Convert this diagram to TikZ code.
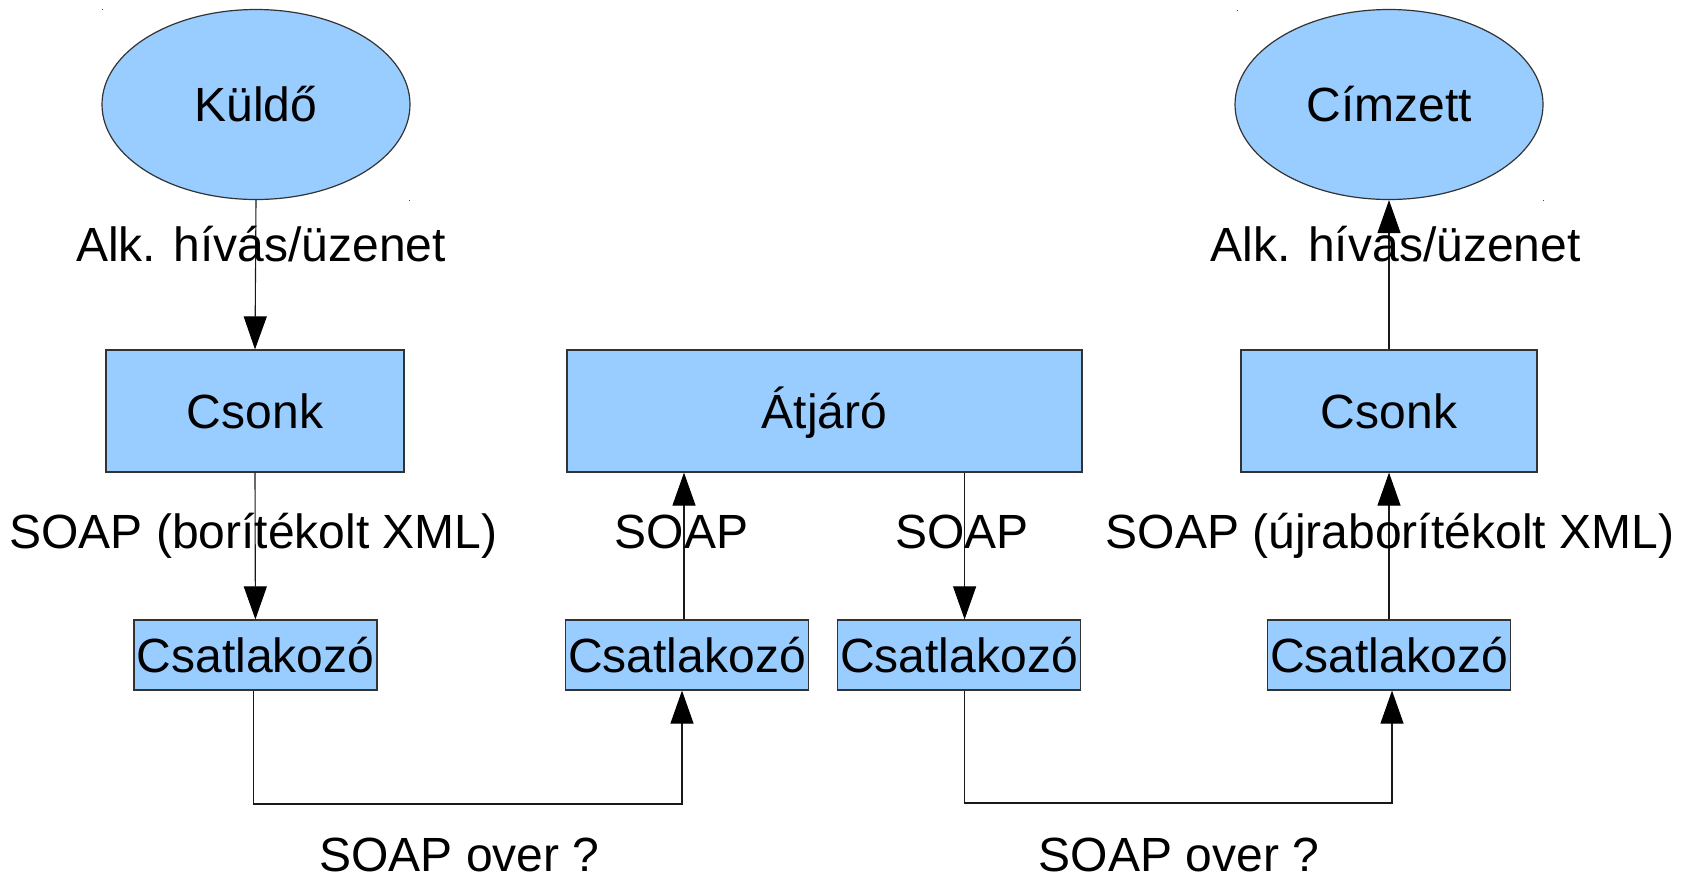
\documentclass[tikz,border=0pt]{standalone}
\usepackage{fontspec}
\setmainfont{Liberation Sans}
\usetikzlibrary{arrows.meta,shapes.geometric}
\definecolor{boxblue}{HTML}{99CCFF}
\definecolor{edgegray}{HTML}{333333}
\tikzset{
  lbl/.style={font=\fontsize{24}{28}\selectfont, inner sep=0pt, anchor=base},
  nodetext/.style={font=\fontsize{24}{28}\selectfont, inner sep=0pt, text height=17.2pt, text depth=0pt, align=center},
  ell/.style={nodetext, ellipse, draw=edgegray, line width=0.6pt, fill=boxblue, minimum width=154pt, minimum height=95pt},
  bigbox/.style={nodetext, rectangle, draw=edgegray, line width=0.6pt, fill=boxblue, minimum height=61pt},
  conbox/.style={nodetext, rectangle, draw=edgegray, line width=0.6pt, fill=boxblue, minimum height=35pt, minimum width=121.5pt},
  conn/.style={draw=black!90, line width=0.55pt},
  arr/.style={conn, -{Triangle[width=11.5pt, length=16.5pt, color=black]}},
}
\begin{document}
\begin{tikzpicture}[x=0.5pt, y=-0.5pt]
\useasboundingbox (0,0) rectangle (1690,879);
% dots
\fill[black!70] (101.5,8.5) rectangle (102.5,9.5);
\fill[black!70] (408.5,199.5) rectangle (409.5,200.5);
\fill[black!70] (1236.5,9.5) rectangle (1237.5,10.5);
\fill[black!70] (1542.5,199.5) rectangle (1543.5,200.5);
% nodes
\node[ell] (kuldo) at (256,104.5) {Küldő};
\node[ell] (cimzett) at (1389,104.5) {Címzett};
\node[bigbox, minimum width=149pt] (csonk1) at (255,411) {Csonk};
\node[bigbox, minimum width=257.5pt] (atjaro) at (824.5,411) {Átjáró};
\node[bigbox, minimum width=148pt] (csonk2) at (1389,411) {Csonk};
\node[conbox] (cs1) at (255.4,655) {Csatlakozó};
\node[conbox] (cs2) at (687,655) {Csatlakozó};
\node[conbox] (cs3) at (959,655) {Csatlakozó};
\node[conbox] (cs4) at (1389,655) {Csatlakozó};
\coordinate (b1) at (0,804);
\coordinate (b2) at (0,803);
% connectors
\draw[arr] (kuldo.south) -- (csonk1.north);
\draw[arr] (csonk1.south) -- (cs1.north);
\draw[arr] ([xshift=-1.5pt]cs2.north) -- ([xshift=-1.5pt]cs2.north |- atjaro.south);
\draw[arr] ([xshift=2.8pt]cs3.north |- atjaro.south) -- ([xshift=2.8pt]cs3.north);
\draw[arr] (cs4.north) -- (csonk2.south);
\draw[arr] (csonk2.north) -- (cimzett.south);
\draw[arr] ([xshift=-0.8pt]cs1.south) -- ([xshift=-0.8pt]cs1.south |- b1) -| ([xshift=-2.5pt]cs2.south);
\draw[arr] ([xshift=2.8pt]cs3.south) -- ([xshift=2.8pt]cs3.south |- b2) -| ([xshift=1.5pt]cs4.south);
% labels
\node[lbl] (l1) at (261,261) {Alk. hívás/üzenet};
\node[lbl] (l2) at (1395.5,261) {Alk. hívás/üzenet};
\node[lbl] (l3) at (253.5,548) {SOAP (borítékolt XML)};
\node[lbl] (l4) at (681.5,548) {SOAP};
\node[lbl] (l5) at (962,548) {SOAP};
\node[lbl] (l6) at (1390,548) {SOAP (újraborítékolt XML)};
\node[lbl] (l7) at (459.5,871) {SOAP over ?};
\node[lbl] (l8) at (1179,871) {SOAP over ?};
\end{tikzpicture}
\end{document}
